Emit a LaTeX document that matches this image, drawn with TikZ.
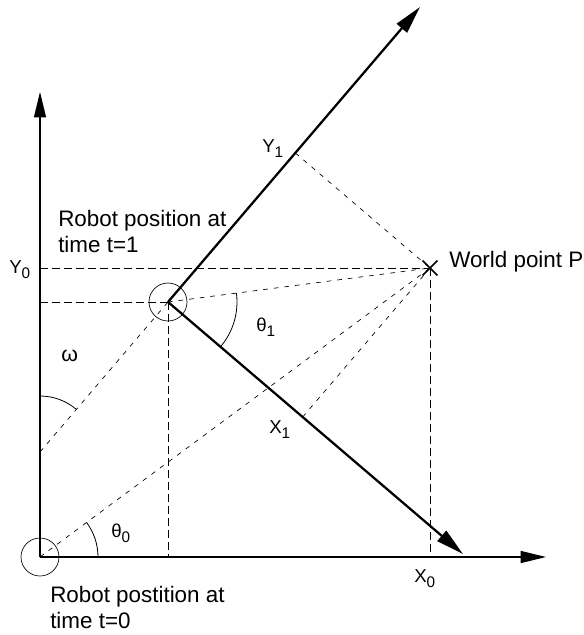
\documentclass[tikz,border=0pt]{standalone}
\usepackage{fontspec}
\setmainfont{Liberation Sans}
\usetikzlibrary{arrows.meta,calc,shapes.misc}

\newcommand{\lsub}[1]{\raisebox{-3.5pt}{\fontsize{11.5}{13}\selectfont #1}}

\begin{document}
\begin{tikzpicture}
% Two robot frames and a world point, in pixel units
\def\pxsz{0.75pt}
\providecommand{\odoAxisWidth}{0.9pt}
\providecommand{\odoFrameWidth}{1.7pt}
\providecommand{\odoDashWidth}{0.65pt}
\providecommand{\odoRayWidth}{0.5pt}
\begin{scope}[x=\pxsz, y=\pxsz,
  worldaxis/.style={draw=black, line width=\odoAxisWidth, -{Triangle[length=19pt,width=9pt]}},
  robotaxis/.style={draw=black, line width=\odoFrameWidth, -{Triangle[length=21pt,width=10pt]}},
  projline/.style={draw=black, line width=\odoDashWidth, dash pattern=on 6pt off 3pt},
  rayline/.style={draw=black, line width=\odoRayWidth, dash pattern=on 3.5pt off 4.5pt},
  anglearc/.style={draw=black, line width=0.6pt},
  robotmark/.style={circle, draw=black, line width=0.5pt, minimum size=28.5pt, inner sep=0pt},
  worldmark/.style={cross out, draw=black, line width=1.2pt, minimum size=10pt, inner sep=0pt},
  caption/.style={anchor=base west, inner sep=0pt, align=left, font=\fontsize{16.8}{19.5}\selectfont},
  symlabel/.style={anchor=base west, inner sep=0pt, font=\fontsize{14}{16}\selectfont}]
  \useasboundingbox (0,0) rectangle (583,635);
  % Frame points
  \coordinate (O) at (40,78);
  \coordinate (R1) at (168,333);
  \coordinate (P) at (430,367);
  \coordinate (x0tip) at (546,78);
  \coordinate (y0tip) at (40,543);
  \coordinate (x1tip) at (463,81);
  \coordinate (y1tip) at (420,628);
  \coordinate (W) at (40,183);
  % Feet of the projections
  \coordinate (Y0) at (O |- P);
  \coordinate (R1y) at (O |- R1);
  \coordinate (R1x) at (R1 |- O);
  \coordinate (X0) at (P |- O);
  \coordinate (Y1) at ($(R1)!(P)!(y1tip)$);
  \coordinate (X1) at ($(R1)!(P)!(x1tip)$);
  % Projections onto the axes
  \draw[projline] (Y0) -- (P);
  \draw[projline] (R1y) -- (R1);
  \draw[projline] (R1) -- (R1x);
  \draw[projline] (P) -- (X0);
  % Rays to the world point
  \draw[rayline] (O) -- (P);
  \draw[rayline] (R1) -- (P);
  \draw[rayline] (W) -- (R1);
  \draw[rayline] (Y1) -- (P);
  \draw[rayline] (X1) -- (P);
  % Angles
  \draw[anglearc] ($(O)+(58,0)$) arc[start angle=0, end angle=36.5, radius=58];
  \draw[anglearc] ($(R1)+(-40.5:69)$) arc[start angle=-40.5, end angle=7.4, radius=69];
  \draw[anglearc] ($(W)+(0,56)$) arc[start angle=90, end angle=49.5, radius=56];
  % World axes
  \draw[worldaxis] (O) -- (x0tip);
  \draw[worldaxis] (O) -- (y0tip);
  % Robot axes at t=1
  \draw[robotaxis] (R1) -- (x1tip);
  \draw[robotaxis] (R1) -- (y1tip);
  % Robot and world point marks
  \node[robotmark] (r0) at (O) {};
  \node[robotmark] (r1) at (R1) {};
  \node[worldmark] (p) at (P) {};
  % Labels
  \node[symlabel] (y0lbl) at (9,361) {Y\lsub{0}};
  \node[symlabel] (x0lbl) at (414,52) {X\lsub{0}};
  \node[symlabel] (y1lbl) at (262,482) {Y\lsub{1}};
  \node[symlabel] (x1lbl) at (269,201) {X\lsub{1}};
  \node[symlabel] (t0lbl) at (111,97) {θ\lsub{0}};
  \node[symlabel] (t1lbl) at (256,303) {θ\lsub{1}};
  \node[symlabel, font=\fontsize{16}{18}\selectfont] (wlbl) at (61,273) {ω};
  \node[caption] (plbl) at (449,367) {World point P};
  \node[caption] (r1lbl) at (58,382) {Robot position at\\time t=1};
  \node[caption] (r0lbl) at (50,7) {Robot postition at\\time t=0};
\end{scope}
\end{tikzpicture}
\end{document}
